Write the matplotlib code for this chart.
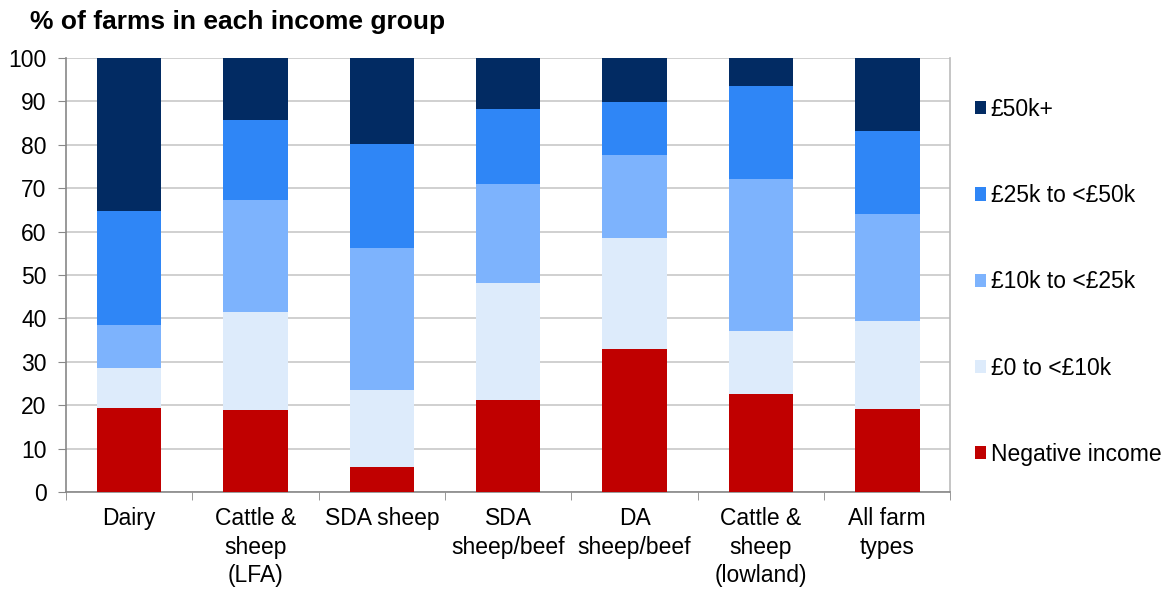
import matplotlib
matplotlib.use("Agg")
import matplotlib.pyplot as plt
from matplotlib.patches import Patch
import numpy as np

categories = ["Dairy", "Cattle &\nsheep\n(LFA)", "SDA sheep", "SDA\nsheep/beef",
              "DA\nsheep/beef", "Cattle &\nsheep\n(lowland)", "All farm\ntypes"]
negative = [19.4, 18.9, 5.8, 21.2, 32.9, 22.6, 19.1]
inc_0_10 = [9.2, 22.6, 17.7, 27.0, 25.6, 14.5, 20.3]
inc_10_25 = [9.9, 25.8, 32.7, 22.8, 19.1, 35.0, 24.7]
inc_25_50 = [26.2, 18.4, 24.0, 17.2, 12.3, 21.4, 19.1]
inc_50_plus = [35.3, 14.3, 19.8, 11.8, 10.1, 6.5, 16.8]

series_labels = ["Negative income", "£0 to <£10k", "£10k to <£25k", "£25k to <£50k", "£50k+"]
colors = ["#C00000", "#DDEBFB", "#7DB3FD", "#2F86F6", "#022B63"]

plt.rcParams['font.family'] = ['Liberation Sans', 'DejaVu Sans']

fig = plt.figure(figsize=(11.73, 5.91), dpi=100)
ax = fig.add_axes([0.0563, 0.1675, 0.754, 0.7346])

x = np.arange(len(categories))
data = [negative, inc_0_10, inc_10_25, inc_25_50, inc_50_plus]
bottom = np.zeros(len(categories))
for vals, col in zip(data, colors):
    ax.bar(x, vals, bottom=bottom, width=0.51, color=col, zorder=3)
    bottom += np.array(vals)

ax.set_xlim(-0.5, len(categories) - 0.5)
ax.set_ylim(0, 100)
ax.set_yticks(range(0, 101, 10))
ax.yaxis.grid(True, color="#C8C8C8", linewidth=1.2, zorder=0)
ax.tick_params(axis='y', labelsize=16.5, length=6, color="#888888", pad=8)
ax.set_xticks(x)
ax.set_xticklabels(categories, fontsize=16.5, linespacing=1.3)
ax.tick_params(axis='x', length=0, pad=11)
ax.set_xticks(np.arange(-0.5, len(categories)), minor=True)
ax.tick_params(axis='x', which='minor', length=6, color="#888888")
for side in ["left", "bottom", "right"]:
    ax.spines[side].set_color("#888888")
    ax.spines[side].set_linewidth(1.2)
ax.spines["top"].set_visible(False)
ax.spines["right"].set_color("#BBBBBB")

fig.text(0.026, 0.962, "% of farms in each income group", fontsize=19, fontweight='bold',
         ha='left', va='center')

handles = [Patch(facecolor=c, label=l) for c, l in zip(colors, series_labels)][::-1]
leg = fig.legend(handles=handles, loc='center left', bbox_to_anchor=(0.823, 0.523),
                 frameon=False, fontsize=16.5, handlelength=0.5, handleheight=0.5,
                 handletextpad=0.2, labelspacing=2.76, borderaxespad=0)

fig.savefig("out.png", dpi=100)
